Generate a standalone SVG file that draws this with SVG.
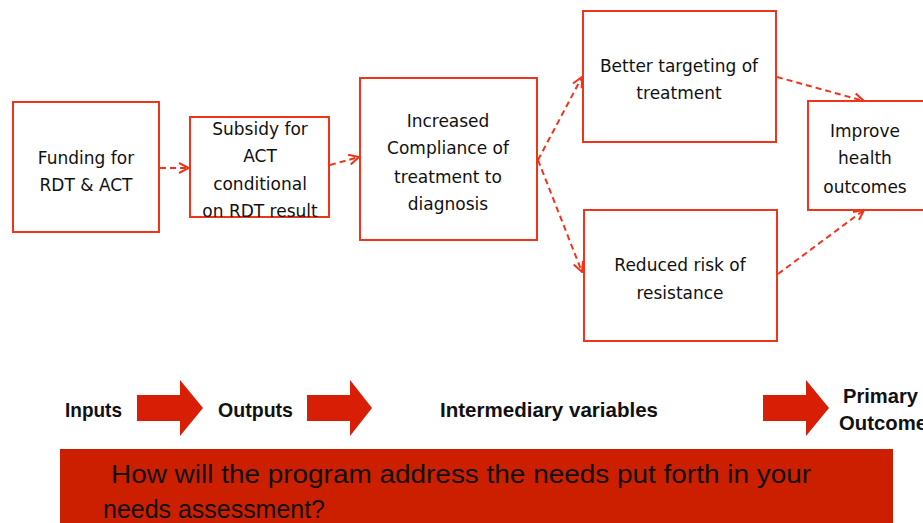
<svg xmlns="http://www.w3.org/2000/svg" width="923" height="523" viewBox="0 0 923 523">
  <defs>
    <style>
      .box { fill: #ffffff; stroke: #f0341a; stroke-width: 2; }
      .lbl { font-family: "DejaVu Sans", "Liberation Sans", sans-serif; font-size: 17px; fill: #111; text-anchor: middle; }
      .link { fill: none; stroke: #f0341a; stroke-width: 2; stroke-dasharray: 6 4; }
      .stage { font-family: "Liberation Sans", Arial, sans-serif; font-size: 21px; font-weight: bold; fill: #111; }
      .big { fill: #d81e05; }
      .q { font-family: "Liberation Sans", Arial, sans-serif; font-size: 25px; fill: #111; }
    </style>
    <marker id="open" viewBox="0 0 12 12" refX="11" refY="6" markerWidth="12" markerHeight="12" markerUnits="userSpaceOnUse" orient="auto">
      <path d="M1,1 L11,6 L1,11" fill="none" stroke="#f0341a" stroke-width="2"/>
    </marker>
  </defs>
  <rect width="923" height="523" fill="#ffffff"/>

  <g id="connectors">
    <line class="link" x1="160" y1="168" x2="189" y2="168" marker-end="url(#open)"/>
    <line class="link" x1="330" y1="165" x2="359" y2="157" marker-end="url(#open)"/>
    <line class="link" x1="538" y1="160" x2="582" y2="77" marker-end="url(#open)"/>
    <line class="link" x1="538" y1="160" x2="582" y2="272" marker-end="url(#open)"/>
    <line class="link" x1="777" y1="77" x2="864" y2="101" marker-end="url(#open)"/>
    <line class="link" x1="778" y1="274" x2="864" y2="210" marker-end="url(#open)"/>
  </g>

  <g id="funding">
    <rect class="box" x="13" y="102" width="146" height="130"/>
    <text class="lbl" x="86" y="164">Funding for</text>
    <text class="lbl" x="86" y="191">RDT &amp; ACT</text>
  </g>
  <g id="subsidy">
    <rect class="box" x="190" y="117" width="139" height="100"/>
    <text class="lbl" x="260" y="135">Subsidy for</text>
    <text class="lbl" x="260" y="162">ACT</text>
    <text class="lbl" x="260" y="190">conditional</text>
    <text class="lbl" x="260" y="217">on RDT result</text>
  </g>
  <g id="compliance">
    <rect class="box" x="360" y="78" width="177" height="162"/>
    <text class="lbl" x="448" y="127">Increased</text>
    <text class="lbl" x="448" y="154">Compliance of</text>
    <text class="lbl" x="448" y="183">treatment to</text>
    <text class="lbl" x="448" y="210">diagnosis</text>
  </g>
  <g id="targeting">
    <rect class="box" x="583" y="11" width="193" height="131"/>
    <text class="lbl" x="679" y="72">Better targeting of</text>
    <text class="lbl" x="679" y="99">treatment</text>
  </g>
  <g id="resistance">
    <rect class="box" x="584" y="210" width="193" height="131"/>
    <text class="lbl" x="680" y="271">Reduced risk of</text>
    <text class="lbl" x="680" y="299">resistance</text>
  </g>
  <g id="outcomes">
    <rect class="box" x="808" y="101" width="120" height="109"/>
    <text class="lbl" x="865" y="137">Improve</text>
    <text class="lbl" x="865" y="164">health</text>
    <text class="lbl" x="865" y="193">outcomes</text>
  </g>

  <g id="stages">
    <text class="stage" x="65" y="417" textLength="57" lengthAdjust="spacingAndGlyphs">Inputs</text>
    <path class="big" d="M137,395 H180 V380 L203,408 L180,436 V421 H137 Z"/>
    <text class="stage" x="218" y="417" textLength="75" lengthAdjust="spacingAndGlyphs">Outputs</text>
    <path class="big" d="M307,395 H350 V380 L372,408 L350,436 V421 H307 Z"/>
    <text class="stage" x="440" y="417" textLength="218" lengthAdjust="spacingAndGlyphs">Intermediary variables</text>
    <path class="big" d="M763,395 H806 V380 L829,408 L806,436 V421 H763 Z"/>
    <text class="stage" x="843" y="403" textLength="75" lengthAdjust="spacingAndGlyphs">Primary</text>
    <text class="stage" x="839" y="430" textLength="88" lengthAdjust="spacingAndGlyphs">Outcome</text>
  </g>

  <g id="question">
    <rect x="60" y="449" width="833" height="74" fill="#cc1f00"/>
    <text class="q" x="111" y="483" textLength="700" lengthAdjust="spacingAndGlyphs">How will the program address the needs put forth in your</text>
    <text class="q" x="103" y="518" textLength="222" lengthAdjust="spacingAndGlyphs">needs assessment?</text>
  </g>
</svg>
